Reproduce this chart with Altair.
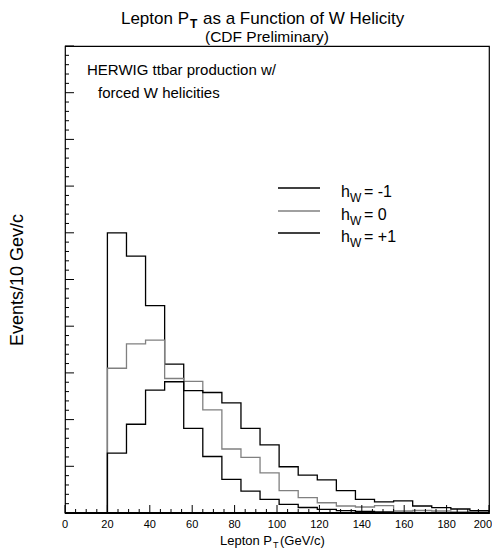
import altair as alt
import pandas as pd

# 9 GeV bins from 20 to 200 GeV
bin_edges = [20, 29, 38, 47, 56, 65, 74, 83, 92, 101, 110,
             119, 128, 137, 146, 155, 164, 173, 182, 191, 200]

# events per bin (arbitrary units, full frame = 100)
h_minus1 = [60.0, 55.0, 44.4, 31.9, 18.1, 12.1, 7.2, 4.7, 2.9, 1.86,
            1.18, 0.79, 0.49, 0.32, 0.21, 0.15, 0.10, 0.08, 0.05, 0.05]
h_zero = [31.0, 36.2, 37.0, 28.8, 28.2, 22.1, 13.7, 11.9, 8.6, 4.8,
          3.3, 2.2, 1.5, 1.28, 1.6, 0.43, 0.54, 0.43, 0.21, 0.21]
h_plus1 = [12.8, 19.0, 26.3, 28.1, 26.2, 25.8, 23.6, 18.1, 14.6, 9.9,
           8.1, 7.1, 4.8, 2.9, 2.4, 2.6, 1.5, 1.13, 0.86, 0.49]

series = [("h=-1", h_minus1), ("h=0", h_zero), ("h=+1", h_plus1)]

x_major = list(range(0, 201, 20))
x_minor = [v for v in range(0, 201, 5) if v % 20 != 0]
y_major = list(range(0, 101, 10))
y_minor = [v for v in range(0, 101, 2) if v % 10 != 0]

rows = []
for name, vals in series:
    pts = [(bin_edges[0], 0.0)]
    pts += [(bin_edges[i], vals[i]) for i in range(len(vals))]
    pts += [(bin_edges[-1], vals[-1]), (bin_edges[-1], 0.0)]
    for k, (x, y) in enumerate(pts):
        rows.append({"series": name, "x": x, "y": y, "k": k})
hist = pd.DataFrame(rows)

W, H = 424, 467
FONT = "Liberation Sans"
xs = alt.Scale(domain=[0, 200], nice=False, zero=False)
ys = alt.Scale(domain=[0, 100], nice=False, zero=False)

lines = alt.Chart(hist).mark_line(interpolate="step-after", strokeWidth=1.3).encode(
    x=alt.X("x:Q", scale=xs, axis=None),
    y=alt.Y("y:Q", scale=ys, axis=None),
    color=alt.Color("series:N", scale=alt.Scale(domain=["h=-1", "h=0", "h=+1"],
                                                range=["#000000", "#808080", "#000000"]),
                    legend=None),
    detail="series:N",
    order="k:Q",
)

def ticks_x(vals, length):
    return alt.Chart(pd.DataFrame({"v": vals})).mark_rule(color="black", strokeWidth=1).encode(
        x=alt.X("v:Q", scale=xs, axis=None), y=alt.value(H), y2=alt.value(H - length))

def ticks_y(vals, length):
    return alt.Chart(pd.DataFrame({"v": vals})).mark_rule(color="black", strokeWidth=1).encode(
        y=alt.Y("v:Q", scale=ys, axis=None), x=alt.value(0), x2=alt.value(length))

xlabels = alt.Chart(pd.DataFrame({"v": x_major[:-1]})).mark_text(
    font=FONT, fontSize=11, baseline="middle", color="black").encode(
    x=alt.X("v:Q", scale=xs, axis=None), y=alt.value(H + 12), text="v:Q")
xlabel_last = alt.Chart(pd.DataFrame({"v": x_major[-1:]})).mark_text(
    font=FONT, fontSize=11, baseline="middle", align="right", dx=3, color="black").encode(
    x=alt.X("v:Q", scale=xs, axis=None), y=alt.value(H + 12), text="v:Q")

baseline_rule = alt.Chart(pd.DataFrame({"v": [0]})).mark_rule(color="black", strokeWidth=2).encode(
    y=alt.Y("v:Q", scale=ys, axis=None), x=alt.value(0), x2=alt.value(W))

def label(text, x, y, size, align="left", baseline="alphabetic", angle=0, weight="normal"):
    kw = dict(font=FONT, fontSize=size, align=align, baseline=baseline,
              color="black", fontWeight=weight)
    if angle:
        kw["angle"] = angle
    return alt.Chart(pd.DataFrame({"t": [text]})).mark_text(**kw).encode(
        x=alt.value(x), y=alt.value(y), text="t:N")

texts = [
    label("Lepton P", 124, -22, 17, align="right"),
    label("T", 125, -18, 12, weight="bold"),
    label("as a Function of W Helicity", 138, -22, 17),
    label("(CDF Preliminary)", 202, -4, 15.5, align="center"),
    label("HERWIG ttbar production w/", 22, 29, 15),
    label("forced W helicities", 33, 52, 15),
    label("Events/10 Gev/c", -47, 234, 18, align="center", baseline="middle", angle=270),
    label("Lepton P", 207, 499, 13, align="right"),
    label("T", 208, 502, 9),
    label("(GeV/c)", 215, 499, 13),
]

leg_y = [142, 165, 187]
leg_txt = ["= -1", "= 0", "= +1"]
leg_col = ["#000000", "#808080", "#000000"]
legend_layers = []
for yy, tt, cc in zip(leg_y, leg_txt, leg_col):
    legend_layers.append(
        alt.Chart(pd.DataFrame({"t": [tt]})).mark_rule(color=cc, strokeWidth=1.3).encode(
            x=alt.value(213), x2=alt.value(255), y=alt.value(yy)))
    legend_layers.append(label("h", 276, yy + 9, 16))
    legend_layers.append(label("W", 285, yy + 14, 12))
    legend_layers.append(label(tt, 299, yy + 9, 16))

chart = alt.layer(
    lines,
    ticks_x(x_major, 8), ticks_x(x_minor, 4),
    ticks_y(y_major, 9), ticks_y(y_minor, 4),
    baseline_rule, xlabels, xlabel_last,
    *texts, *legend_layers,
).properties(
    width=W, height=H,
    autosize=alt.AutoSizeParams(type="none"),
    padding={"left": 57, "top": 38, "right": 3, "bottom": 36},
).configure_view(stroke="black", strokeWidth=1.2)

chart.save("out.html", embed_options={"renderer": "svg", "actions": False})
